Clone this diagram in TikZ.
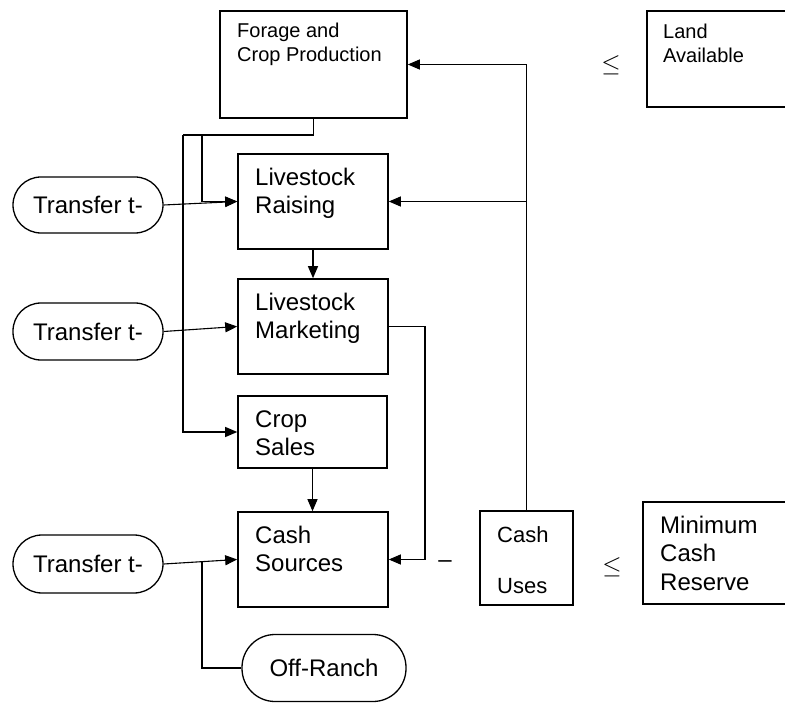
\documentclass[tikz,border=0pt]{standalone}
\usepackage{fontspec}
\setmainfont{Liberation Sans}
\usetikzlibrary{arrows.meta}
\begin{document}
\begin{tikzpicture}[x=1pt,y=-1pt,
  box/.style={draw, line width=1.6pt, rectangle, inner sep=0pt},
  pill/.style={draw, line width=1.3pt, rectangle, inner sep=0pt, font=\fontsize{24}{28}\selectfont},
  lbl/.style={anchor=base west, align=left, inner sep=0pt, font=\fontsize{24}{28}\selectfont},
  slbl/.style={lbl, font=\fontsize{20}{24}\selectfont},
  sym/.style={inner sep=0pt, font=\fontsize{24}{28}\selectfont},
  lesym/.style={inner sep=0pt, font=\fontsize{30}{34}\selectfont},
  conn/.style={line width=1.1pt},
  arr/.style={conn, -{Triangle[length=12pt,width=10pt]}}]
\clip (0,0) rectangle (785,703);
% boxes
\node[box, minimum width=187pt, minimum height=107pt] (forage) at (313.5,64.5) {};
\node[box, minimum width=150pt, minimum height=95pt] (raise) at (313,201.5) {};
\node[box, minimum width=150pt, minimum height=95pt] (market) at (313,326.5) {};
\node[box, minimum width=149pt, minimum height=72pt] (crop) at (312.5,432) {};
\node[box, minimum width=150pt, minimum height=95pt] (cash) at (313,559.5) {};
\node[box, minimum width=93pt, minimum height=94pt] (uses) at (526.5,558) {};
\node[box, minimum width=157pt, minimum height=102pt] (reserve) at (721.5,553) {};
\node[box, minimum width=153pt, minimum height=96pt] (land) at (723.5,59) {};
% pills
\node[pill, rounded corners=28pt, minimum width=150pt, minimum height=56pt] (p1) at (88,205) {Transfer t-};
\node[pill, rounded corners=28pt, minimum width=150pt, minimum height=57pt] (p2) at (88,331.5) {Transfer t-};
\node[pill, rounded corners=29pt, minimum width=150pt, minimum height=58pt] (p3) at (88,564) {Transfer t-};
\node[pill, rounded corners=33pt, minimum width=164pt, minimum height=67pt] (off) at (324,668) {Off-Ranch};
% texts (base anchor = baseline of last line)
\node[slbl] (tforage) at (237,62) {Forage and\\Crop Production};
\node[slbl] (tland) at (663,63) {Land\\Available};
\node[lbl] (traise) at (255,214) {Livestock\\Raising};
\node[lbl] (tmarket) at (255,339) {Livestock\\Marketing};
\node[lbl] (tcrop) at (255,455) {Crop\\Sales};
\node[lbl] (tcash) at (255,571) {Cash\\Sources};
\node[lbl, font=\fontsize{22}{26}\selectfont] (tuses1) at (497,542) {Cash};
\node[lbl, font=\fontsize{22}{26}\selectfont] (tuses2) at (497,593) {Uses};
\node[lbl, font=\fontsize{24}{28.5}\selectfont] (treserve) at (660,590) {Minimum\\Cash\\Reserve};
% symbols
\node[sym] (minus) at (445,564) {–};
\node[lesym] (le1) at (611,65) {$\leq$};
\node[lesym] (le2) at (612,567) {$\leq$};
% junctions
\coordinate (fj) at (313.5,135);
\coordinate (lx) at (183,135);
\coordinate (bx) at (202,135);
\coordinate (mx) at (425,326.5);
\coordinate (oj) at (202,561.7);
% connectors
\draw[conn] (forage.south) -- (fj) -- (lx);
\draw[arr] (lx) |- (crop.west);
\draw[arr] (bx) |- (raise.west);
\draw[arr] (p1.east) -- (raise.west);
\draw[arr] (raise.south) -- (market.north);
\draw[arr] (p2.east) -- (market.west);
\draw[arr] (market.east) -- (mx) |- (cash.east);
\draw[arr] (crop.south) -- (crop.south |- cash.north);
\draw[arr] (p3.east) -- (cash.west);
\draw[conn] (off.west) -| (oj);
\draw[arr] (uses.north) |- (forage.east);
\draw[arr] (uses.north |- raise.east) -- (raise.east);
\end{tikzpicture}
\end{document}
